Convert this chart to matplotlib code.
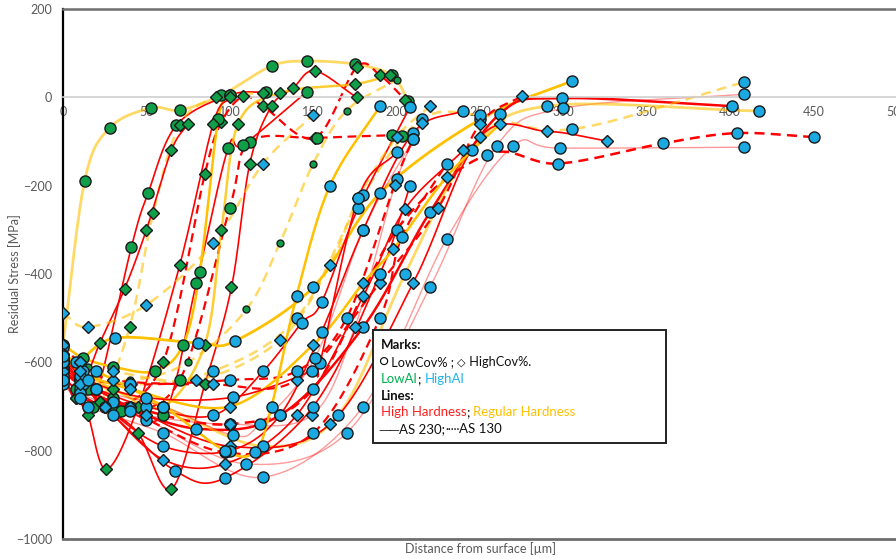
import numpy as np
import matplotlib
matplotlib.use("Agg")
import matplotlib.pyplot as plt
from matplotlib.patches import Rectangle

# ---------------- data: depth [um] / residual stress [MPa] ----------------
# LowAl specimens (green marks)
g01_d = [0, 13, 28, 53, 70, 95, 125, 146, 175, 197, 207]
g01_s = [-560, -189, -69, -24, -29, 5, 71, 82, 75, 50, -8]
g02_d = [0, 8, 18, 41, 51, 68, 100, 122]
g02_s = [-640, -660, -700, -339, -217, -63, 5, 12]
g03_d = [0, 10, 22, 40, 54, 70, 92, 120]
g03_s = [-600, -640, -690, -520, -263, -62, 0, 10]
g04_d = [0, 12, 30, 60, 85, 95, 108, 120, 151, 176, 190, 205]
g04_s = [-610, -650, -700, -600, -174, -56, 2, -20, -92, 68, 50, -5]
g05_d = [0, 15, 35, 70, 100, 112, 152, 197, 203]
g05_s = [-620, -660, -710, -640, -250, -101, -92, -86, -88]
g06_d = [0, 10, 25, 45, 65, 85, 101, 112, 125, 138, 151, 176]
g06_s = [-590, -640, -700, -760, -887, -650, -430, -150, -20, 21, 60, 0]
g07_d = [0, 10, 30, 60, 80, 99, 108, 146]
g07_s = [-600, -640, -680, -720, -420, -115, -108, 12]
g08_d = [0, 12, 30, 55, 72, 82, 93, 100]
g08_s = [-560, -590, -610, -620, -560, -396, -50, 5]
g09_d = [0, 15, 40, 75, 110, 130, 150, 170, 200]
g09_s = [-590, -610, -640, -600, -480, -330, -150, -30, 40]
g10_d = [0, 8, 15, 26, 45, 70, 90, 100]
g10_s = [-640, -680, -720, -842, -700, -380, -60, 0]
g11_d = [0, 10, 30, 60, 85, 95, 105, 130, 175, 196]
g11_s = [-590, -620, -660, -700, -560, -300, -60, 10, 30, 50]
g12_d = [0, 8, 22, 37, 50, 65, 75]
g12_s = [-610, -680, -557, -433, -300, -120, -60]

# HighAl specimens (blue marks)
b01_d = [0, 8, 31, 81, 103, 150, 190, 250, 305]
b01_s = [-565, -600, -545, -556, -552, -430, -217, -50, 37]
b02_d = [0, 10, 30, 80, 130, 180, 220, 262, 299, 401]
b02_s = [-620, -650, -690, -750, -720, -520, -260, -37, -2, -20]
b03_d = [0, 10, 50, 110, 170, 220, 260, 300, 408]
b03_s = [-640, -670, -730, -830, -760, -430, -110, -25, 7]
b04_d = [0, 12, 60, 120, 165, 205, 245, 290, 417]
b04_s = [-600, -640, -700, -790, -720, -400, -120, -20, -31]
b05_d = [0, 12, 40, 90, 140, 180, 215, 250, 305, 408]
b05_s = [-600, -620, -650, -620, -500, -220, -50, -40, -72, 34]
b06_d = [0, 10, 40, 100, 150, 200, 254, 297, 360, 404, 450]
b06_s = [-620, -660, -700, -740, -660, -300, -130, -150, -104, -81, -90]
b07_d = [0, 15, 60, 120, 180, 230, 270, 298, 408]
b07_s = [-650, -700, -760, -860, -700, -320, -110, -115, -113]
b08_d = [0, 10, 40, 100, 160, 210, 250, 290, 326]
b08_s = [-610, -640, -700, -790, -740, -420, -90, -77, -99]
b09_d = [0, 10, 30, 90, 140, 190, 225, 250, 275]
b09_s = [-560, -600, -640, -650, -640, -420, -250, -60, 3]
b10_d = [0, 12, 25, 60, 100, 130, 155, 180, 210, 240]
b10_s = [-620, -650, -700, -790, -800, -720, -531, -300, -80, -30]
b11_d = [0, 10, 20, 50, 90, 120, 143, 155, 177, 208]
b11_s = [-600, -640, -660, -700, -720, -620, -511, -464, -250, -22]
b12_d = [0, 10, 30, 80, 130, 160, 177, 200, 220]
b12_s = [-580, -600, -620, -640, -550, -380, -228, -90, -20]
b13_d = [0, 10, 40, 100, 140, 170, 200, 210]
b13_s = [-600, -630, -650, -640, -620, -500, -184, -94]
b14_d = [0, 10, 50, 100, 149, 175, 199, 215]
b14_s = [-640, -680, -720, -740, -720, -520, -199, -58]
b15_d = [0, 10, 30, 67, 97, 150, 190, 208]
b15_s = [-630, -670, -720, -845, -862, -700, -400, -201]
b16_d = [0, 10, 25, 60, 97, 140, 180, 205, 240]
b16_s = [-620, -650, -700, -820, -830, -720, -450, -253, -120]
b17_d = [0, 10, 40, 97, 150, 190, 203, 230]
b17_s = [-640, -680, -710, -804, -760, -500, -317, -150]
b18_d = [0, 10, 40, 100, 150, 180, 198, 230, 262]
b18_s = [-580, -620, -660, -700, -560, -420, -344, -180, -60]
b19_d = [0, 15, 50, 102, 149, 154, 177, 200]
b19_s = [-590, -640, -680, -679, -620, -602, -228, -124]
b20_d = [0, 20, 60, 102, 118, 151, 180, 210]
b20_s = [-600, -660, -700, -765, -740, -590, -300, -94]
b21_d = [0, 15, 50, 90, 120, 150]
b21_s = [-488, -520, -470, -330, -150, -40]
b22_d = [0, 20, 60, 97, 115, 125, 140, 160, 190]
b22_s = [-585, -620, -700, -800, -802, -700, -450, -200, -20]

# ---------------- styles ----------------
RED = "#FF0000"
YEL = "#FFC000"
GREEN = "#0E9F48"
BLUE = "#1BA9E2"

# (depths, stresses, line colour, line alpha, line width, dashed, marker, face, marker size)
series = [
    (g01_d, g01_s, YEL, 0.6, 2.0, False, "o", GREEN, 8),
    (g02_d, g02_s, RED, 1.0, 1.2, False, "o", GREEN, 8),
    (g03_d, g03_s, YEL, 0.6, 1.8, True, "D", GREEN, 6),
    (g04_d, g04_s, RED, 1.0, 1.6, True, "D", GREEN, 6),
    (g05_d, g05_s, RED, 1.0, 1.6, True, "o", GREEN, 8),
    (g06_d, g06_s, RED, 1.0, 1.2, False, "D", GREEN, 6),
    (g07_d, g07_s, RED, 1.0, 1.2, False, "o", GREEN, 8),
    (g08_d, g08_s, YEL, 1.0, 1.8, False, "o", GREEN, 8),
    (g09_d, g09_s, YEL, 0.6, 1.8, True, "o", GREEN, 5),
    (g10_d, g10_s, RED, 1.0, 1.2, False, "D", GREEN, 6),
    (g11_d, g11_s, YEL, 0.8, 1.8, False, "D", GREEN, 6),
    (g12_d, g12_s, RED, 1.0, 1.2, False, "D", GREEN, 6),
    (b01_d, b01_s, YEL, 1.0, 2.0, False, "o", BLUE, 8),
    (b02_d, b02_s, RED, 1.0, 1.8, False, "o", BLUE, 8),
    (b03_d, b03_s, RED, 0.4, 1.0, False, "o", BLUE, 8),
    (b04_d, b04_s, YEL, 0.6, 2.0, False, "o", BLUE, 8),
    (b05_d, b05_s, YEL, 0.6, 1.8, True, "o", BLUE, 8),
    (b06_d, b06_s, RED, 1.0, 1.8, True, "o", BLUE, 8),
    (b07_d, b07_s, RED, 0.4, 1.0, False, "o", BLUE, 8),
    (b08_d, b08_s, RED, 1.0, 1.2, False, "D", BLUE, 6),
    (b09_d, b09_s, RED, 1.0, 1.6, True, "D", BLUE, 6),
    (b10_d, b10_s, RED, 1.0, 1.2, False, "o", BLUE, 8),
    (b11_d, b11_s, RED, 1.0, 1.2, False, "o", BLUE, 8),
    (b12_d, b12_s, YEL, 0.6, 1.8, True, "D", BLUE, 6),
    (b13_d, b13_s, RED, 1.0, 1.6, True, "o", BLUE, 8),
    (b14_d, b14_s, RED, 0.4, 1.0, False, "D", BLUE, 6),
    (b15_d, b15_s, RED, 1.0, 1.2, False, "o", BLUE, 8),
    (b16_d, b16_s, RED, 1.0, 1.2, False, "D", BLUE, 6),
    (b17_d, b17_s, RED, 1.0, 1.6, True, "o", BLUE, 8),
    (b18_d, b18_s, YEL, 1.0, 1.8, False, "D", BLUE, 6),
    (b19_d, b19_s, RED, 1.0, 1.2, False, "o", BLUE, 8),
    (b20_d, b20_s, RED, 0.4, 1.0, False, "o", BLUE, 8),
    (b21_d, b21_s, YEL, 0.6, 1.8, True, "D", BLUE, 6),
    (b22_d, b22_s, YEL, 1.0, 1.8, False, "o", BLUE, 8),
]

x_ticks = list(range(0, 501, 50))
y_ticks = list(range(-1000, 201, 200))


def smooth(x, y, n=24):
    """Catmull-Rom (spreadsheet style) smoothing through the data points."""
    x = np.asarray(x, float)
    y = np.asarray(y, float)
    if len(x) < 3:
        return x, y
    px = np.concatenate([[2 * x[0] - x[1]], x, [2 * x[-1] - x[-2]]])
    py = np.concatenate([[2 * y[0] - y[1]], y, [2 * y[-1] - y[-2]]])
    t = np.linspace(0, 1, n, endpoint=False)[:, None]
    xs, ys = [], []
    for i in range(1, len(px) - 2):
        for p, out in ((px, xs), (py, ys)):
            p0, p1, p2, p3 = p[i - 1], p[i], p[i + 1], p[i + 2]
            seg = 0.5 * (2 * p1 + (-p0 + p2) * t + (2 * p0 - 5 * p1 + 4 * p2 - p3) * t ** 2
                         + (-p0 + 3 * p1 - 3 * p2 + p3) * t ** 3)
            out.append(seg.ravel())
    xs.append([x[-1]])
    ys.append([y[-1]])
    return np.concatenate(xs), np.concatenate(ys)


FONT = ["Lato", "DejaVu Sans"]
plt.rcParams["font.family"] = FONT
GREY = "#595959"

fig = plt.figure(figsize=(8.96, 5.59), dpi=100)
ax = fig.add_axes([63 / 896, 20 / 559, 834 / 896, 530 / 559])
ax.set_xlim(0, 500)
ax.set_ylim(-1000, 200)

for d, s, lc, la, lw, dashed, mk, face, ms in series:
    xs, ys = smooth(d, s)
    ax.plot(xs, ys, color=lc, alpha=la, lw=lw,
            linestyle=(0, (4, 2.5)) if dashed else "-", zorder=2,
            solid_capstyle="round")
    ax.plot(d, s, linestyle="none", marker=mk, markersize=ms,
            markerfacecolor=face, markeredgecolor="#1a1a1a",
            markeredgewidth=1.0, zorder=3)

# axes frame: x axis drawn along the zero line, heavy frame on the other sides
ax.spines["bottom"].set_position(("data", 0))
ax.spines["bottom"].set_color("#D0D0D0")
ax.spines["bottom"].set_linewidth(1.2)
ax.spines["left"].set_color("#000000")
ax.spines["left"].set_linewidth(1.6)
ax.spines["top"].set_color("#6E6E6E")
ax.spines["top"].set_linewidth(1.8)
ax.spines["right"].set_visible(False)
ax.axhline(-1000, color="#6E6E6E", lw=2.0, clip_on=False, zorder=4)

ax.set_xticks(x_ticks)
ax.set_yticks(y_ticks)
ax.tick_params(axis="both", length=0, colors=GREY, labelsize=9)
ax.tick_params(axis="x", pad=6)
ax.tick_params(axis="y", pad=8)
for lab in ax.get_xticklabels() + ax.get_yticklabels():
    lab.set_zorder(1)

fig.text(15 / 896, 1 - 274 / 559, "Residual Stress [MPa]", rotation=90,
         ha="center", va="center", color=GREY, fontsize=9)
fig.text(480 / 896, 1 - 549 / 559, "Distance from surface [µm]",
         ha="center", va="center", color=GREY, fontsize=9)

# description box
box = Rectangle((373 / 100, (559 - 443) / 100), 293 / 100, 113 / 100,
                transform=fig.dpi_scale_trans, facecolor="white",
                edgecolor="#222222", lw=1.4, zorder=10)
fig.add_artist(box)

renderer = fig.canvas.get_renderer()


def chain(px, py, parts, size=9.5):
    x = px / 100
    y = (559 - py) / 100
    for txt, col, wt, sz in parts:
        t = fig.text(x, y, txt, transform=fig.dpi_scale_trans, color=col,
                     fontweight=wt, fontsize=sz or size, va="center", ha="left",
                     family=FONT, zorder=11)
        bb = t.get_window_extent(renderer)
        x += bb.width / 100


INK = "#111111"
chain(381, 345, [("Marks:", INK, "bold", None)])
chain(378, 362, [("○", INK, "normal", 11), (" LowCov% ; ", INK, "normal", 9.2),
                 ("◇", INK, "normal", 8), (" HighCov%.", INK, "normal", 9.2)])
chain(381, 379, [("LowAl", "#00B050", "normal", None), ("; ", INK, "normal", None),
                 ("HighAl", "#1FB4EE", "normal", None)])
chain(381, 396, [("Lines:", INK, "bold", None)])
chain(381, 412, [("High Hardness", "#FF2020", "normal", None), ("; ", INK, "normal", None),
                 ("Regular Hardness", "#FFC000", "normal", None)])
chain(379, 429, [("──", INK, "normal", 9.5), ("AS 230;", INK, "normal", None),
                 ("·····", INK, "normal", 8), ("AS 130", INK, "normal", None)])

fig.savefig("out.png", dpi=100)
